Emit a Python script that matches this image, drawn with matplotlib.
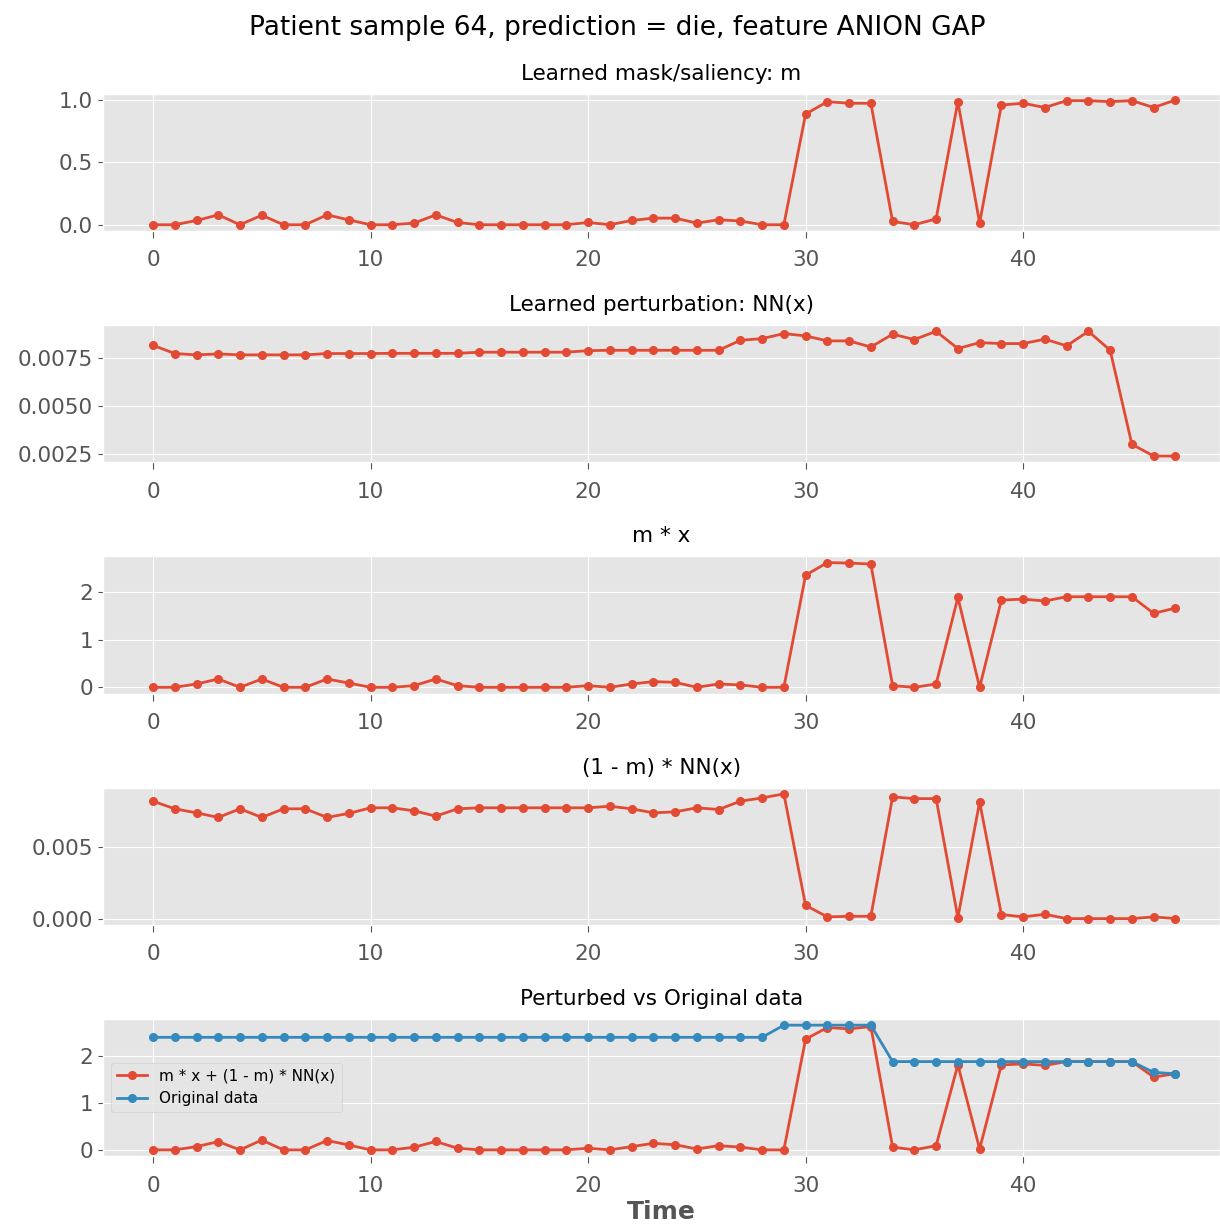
import matplotlib
matplotlib.use("Agg")
import matplotlib.pyplot as plt
from matplotlib.ticker import FormatStrFormatter

plt.style.use("ggplot")

time = list(range(48))

# learned mask m
mask = [0.0, 0.0, 0.034, 0.079, 0.0, 0.076, 0.0, 0.0, 0.079, 0.039,
        0.0, 0.0, 0.013, 0.079, 0.018, 0.0, 0.0, 0.0, 0.0, 0.0,
        0.018, 0.0, 0.034, 0.053, 0.053, 0.013, 0.04, 0.03, 0.0, 0.0,
        0.887, 0.987, 0.974, 0.974, 0.026, 0.0, 0.047, 0.987, 0.013, 0.96,
        0.974, 0.94, 0.995, 0.995, 0.987, 0.995, 0.94, 1.0]

# learned perturbation NN(x)
perturbation = [0.00816, 0.00773, 0.00766, 0.00771, 0.00766, 0.00766, 0.00766, 0.00766, 0.00773, 0.00773,
                0.00773, 0.00774, 0.00774, 0.00774, 0.00774, 0.0078, 0.0078, 0.0078, 0.0078, 0.0078,
                0.00788, 0.0079, 0.0079, 0.0079, 0.0079, 0.0079, 0.0079, 0.00842, 0.00851, 0.00877,
                0.00865, 0.00839, 0.00839, 0.00807, 0.00874, 0.00846, 0.00889, 0.00799, 0.0083, 0.00825,
                0.00825, 0.00848, 0.00813, 0.00889, 0.0079, 0.00299, 0.00238, 0.00238]

# m * x
masked_input = [0.0, 0.0, 0.07, 0.175, 0.0, 0.175, 0.0, 0.0, 0.175, 0.09,
                0.0, 0.0, 0.035, 0.175, 0.035, 0.0, 0.0, 0.0, 0.0, 0.0,
                0.035, 0.0, 0.07, 0.12, 0.105, 0.0, 0.07, 0.05, 0.0, 0.0,
                2.365, 2.63, 2.62, 2.6, 0.035, 0.0, 0.07, 1.895, 0.0, 1.84,
                1.86, 1.82, 1.91, 1.91, 1.91, 1.91, 1.56, 1.67]

# (1 - m) * NN(x)
masked_perturbation = [0.00818, 0.00765, 0.00737, 0.00705, 0.00765, 0.00705, 0.00765, 0.00765, 0.00705, 0.00733,
                       0.00772, 0.00772, 0.00751, 0.00714, 0.00765, 0.00772, 0.00772, 0.00772, 0.00772, 0.00772,
                       0.00772, 0.00783, 0.00765, 0.00737, 0.00744, 0.00772, 0.0076, 0.00818, 0.00841, 0.00869,
                       0.00092, 0.00012, 0.00016, 0.00016, 0.00848, 0.00836, 0.00836, 0.00007, 0.00813, 0.00028,
                       0.00012, 0.0003, 0.0, 0.0, 0.0, 0.0, 0.00012, 0.0]

# perturbed input m * x + (1 - m) * NN(x)
perturbed = [0.0, 0.0, 0.07, 0.177, 0.0, 0.21, 0.0, 0.0, 0.2, 0.106,
             0.0, 0.0, 0.057, 0.18, 0.035, 0.0, 0.0, 0.0, 0.0, 0.0,
             0.035, 0.0, 0.07, 0.14, 0.11, 0.02, 0.09, 0.06, 0.0, 0.0,
             2.37, 2.62, 2.59, 2.64, 0.06, 0.0, 0.09, 1.82, 0.02, 1.82,
             1.84, 1.81, 1.89, 1.89, 1.89, 1.89, 1.56, 1.63]

# original ANION GAP values
original = [2.41] * 29 + [2.67] * 5 + [1.89] * 12 + [1.66, 1.63]

titles = ["Learned mask/saliency: m",
          "Learned perturbation: NN(x)",
          "m * x",
          "(1 - m) * NN(x)",
          "Perturbed vs Original data"]
series = [mask, perturbation, masked_input, masked_perturbation]

line_kw = dict(marker="o", markersize=5.5, linewidth=2)

fig, axes = plt.subplots(5, 1, figsize=(12.2, 12.26), dpi=100)
fig.subplots_adjust(left=0.0844, right=1.0, top=0.9235, bottom=0.057, hspace=0.686)
fig.suptitle("Patient sample 64, prediction = die, feature ANION GAP",
             fontsize=19, x=0.506, y=0.988)

for ax, title, values in zip(axes[:4], titles[:4], series):
    ax.plot(time, values, color="#E24A33", **line_kw)
    ax.set_title(title, fontsize=15.5, pad=10)

ax = axes[4]
ax.plot(time, perturbed, color="#E24A33", label="m * x + (1 - m) * NN(x)", **line_kw)
ax.plot(time, original, color="#348ABD", label="Original data", **line_kw)
ax.set_title(titles[4], fontsize=15.5, pad=10)
ax.legend(loc="center left", fontsize=11)
ax.set_xlabel("Time", fontsize=18, fontweight="bold", color="#555555", labelpad=3)

axes[0].set_yticks([0.0, 0.5, 1.0])
axes[1].set_yticks([0.0025, 0.0050, 0.0075])
axes[1].yaxis.set_major_formatter(FormatStrFormatter("%.4f"))
axes[2].set_yticks([0, 1, 2])
axes[3].set_yticks([0.000, 0.005])
axes[3].yaxis.set_major_formatter(FormatStrFormatter("%.3f"))
axes[4].set_yticks([0, 1, 2])

for a in axes:
    a.set_xlim(-2.3, 49.05)
    a.set_xticks([0, 10, 20, 30, 40])
    a.tick_params(labelsize=15.5)
    a.tick_params(axis="x", length=5, pad=9)

fig.savefig("out.png", dpi=100)
